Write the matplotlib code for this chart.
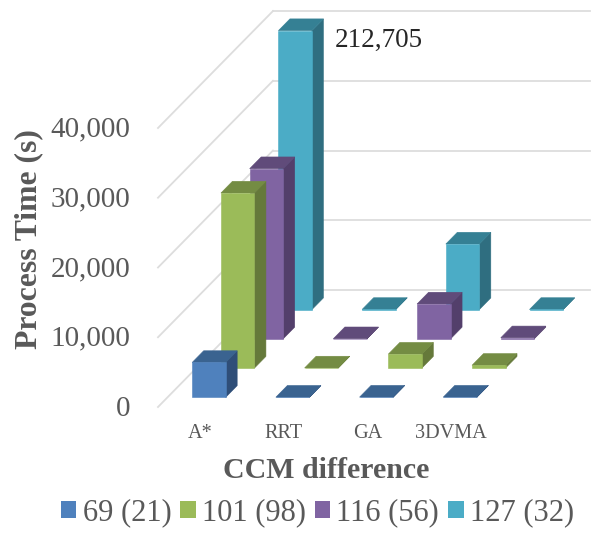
import matplotlib
matplotlib.use('Agg')
import matplotlib.pyplot as plt
from matplotlib.patches import Polygon, Patch

categories = ['A*', 'RRT', 'GA', '3DVMA']
series_names = ['69 (21)', '101 (98)', '116 (56)', '127 (32)']
ccm_69 = [5000, 20, 30, 30]
ccm_101 = [25100, 20, 2000, 400]
ccm_116 = [24400, 20, 5000, 150]
ccm_127 = [212705, 20, 9400, 20]
yticks = [0, 10000, 20000, 30000, 40000]
ymax = 40000

front_cols = ['#4F81BD', '#9BBB59', '#8064A2', '#4BACC6']
top_cols = ['#3A6390', '#748C43', '#604B7A', '#358094']
side_cols = ['#2F4E78', '#65793A', '#533F6B', '#2F6E80']
grid_col = '#DDDDDD'
text_col = '#595959'

plt.rcParams['font.family'] = 'Liberation Serif'

fig = plt.figure(figsize=(5.97, 5.38), dpi=100)
ax = fig.add_axes([0, 0, 1, 1])

# pixels per unit on each axis, the oblique floor is done by shifting with depth
px_cat = 83.7
px_val = 69.75 / 10000
ax.set_xlim(-158 / px_cat, (597 - 158) / px_cat)
ax.set_ylim(-(538 - 407) / px_val, 407 / px_val)
ax.axis('off')

depth_dx = 28.75 / px_cat
depth_dy = 29.25 / px_val


def proj(cat, depth, val):
    return (cat + depth * depth_dx, val + depth * depth_dy)


# walls
for t in yticks:
    ax.plot(*zip(proj(0, 0, t), proj(0, 4, t)), color=grid_col, lw=1.3, zorder=1)
    x0, y0 = proj(0, 4, t)
    ax.plot([x0, x0 + 317 / px_cat], [y0, y0], color=grid_col, lw=1.3, zorder=1)


def draw_bar(cat, s, val, i):
    val = min(val, ymax)
    l, r = cat + 0.295, cat + 0.695
    d0, d1 = s + 0.33, s + 0.73
    front = [proj(l, d0, 0), proj(r, d0, 0), proj(r, d0, val), proj(l, d0, val)]
    side = [proj(r, d0, 0), proj(r, d1, 0), proj(r, d1, val), proj(r, d0, val)]
    top = [proj(l, d0, val), proj(r, d0, val), proj(r, d1, val), proj(l, d1, val)]
    z = 10 + (3 - s) * 10 + cat
    ax.add_patch(Polygon(side, fc=side_cols[i], ec=side_cols[i], lw=0.4, zorder=z))
    ax.add_patch(Polygon(top, fc=top_cols[i], ec=top_cols[i], lw=0.4, zorder=z))
    ax.add_patch(Polygon(front, fc=front_cols[i], ec=front_cols[i], lw=0.4, zorder=z))


all_series = [ccm_69, ccm_101, ccm_116, ccm_127]
for s, vals in enumerate(all_series):
    for c, v in enumerate(vals):
        draw_bar(c, s, v, s)

# value axis labels
for t in yticks:
    ax.text(-28 / px_cat, t + 1.5 / px_val, f'{t:,}', ha='right', va='center_baseline', fontsize=21,
            color=text_col)
ax.text((29 - 158) / px_cat, 168 / px_val, 'Process Time (s)', rotation=90, ha='center',
        va='center', fontsize=22.8, fontweight='bold', color=text_col)

# category labels under the floor
for c, name in enumerate(categories):
    ax.text(c + 0.5, -26 / px_val, name, ha='center', va='center', fontsize=14.6, color=text_col)

ax.text((326 - 158) / px_cat, (407 - 471) / px_val, 'CCM difference', ha='center', va='center',
        fontsize=21.5, fontweight='bold', color=text_col)

# the tall bar runs off the axis so its real value is written next to it
ax.text((335 - 158) / px_cat, (407 - 37) / px_val, f'{ccm_127[0]:,}',
        ha='left', va='center_baseline', fontsize=19.5, color='#262626', zorder=80)

handles = [Patch(fc=c, ec='none') for c in front_cols]
ax.legend(handles, series_names, loc='center', bbox_to_anchor=(317.5 / 597, 1 - 513 / 538), ncol=4,
          frameon=False, fontsize=22, handlelength=0.5, handleheight=0.5, handletextpad=0.2,
          columnspacing=0.3, labelcolor=text_col)

fig.savefig('out.png', dpi=100)
